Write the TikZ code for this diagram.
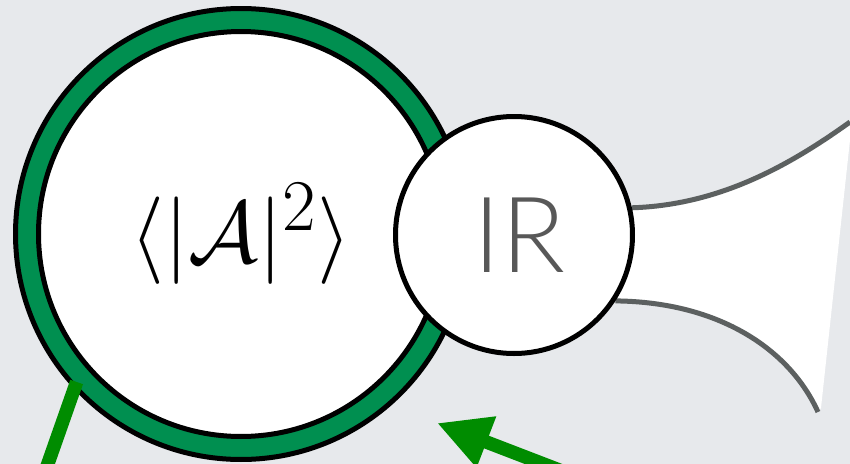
\documentclass[tikz,border=0pt]{standalone}
\usepackage{fontspec}
\usepackage{amsmath,amssymb}
\definecolor{ringgreen}{RGB}{0,143,80}
\definecolor{arrowgreen}{RGB}{0,140,0}
\definecolor{bggray}{RGB}{231,233,236}
\definecolor{linegray}{RGB}{92,96,96}
\definecolor{textgray}{RGB}{88,88,88}
\newfontfamily\irfont{Lato Light}
\usetikzlibrary{arrows.meta,backgrounds,calc}

\begin{document}
\begin{tikzpicture}[x=0.1mm,y=-0.1mm,
  blob/.style={circle,draw=black,line width=0.5mm,inner sep=0pt},
  leg/.style={draw=linegray,line width=0.5mm},
  pointer/.style={draw=arrowgreen,line width=1.35mm}]
\useasboundingbox (0,0) rectangle (850,464);
\clip (0,0) rectangle (850,464);
\node[blob,fill=ringgreen,minimum size=45.1mm] (ring) at (241,234) {};
\node[blob,fill=white,minimum size=40.5mm,font=\fontsize{30.5}{36}\selectfont] (amp) at (ring.center) {$\langle|\mathcal{A}|^2\rangle$};
\node[blob,fill=white,minimum size=23.7mm,text=textgray,font=\irfont\fontsize{30}{36}\selectfont] (ir) at (514,235) {\kern1.1mm IR};
\coordinate (top end) at (850,122);
\coordinate (bot end) at (818,412);
\begin{scope}[on background layer]
  \fill[bggray] (0,0) rectangle (850,464);
  \fill[white] (ir.13) .. controls (720,205) and (790,165) .. (top end) -- (850,140) -- (821,408) -- (bot end) .. controls (790,350) and (720,302) .. (ir.-33) -- (ir.center) -- cycle;
  \draw[leg] (ir.13) .. controls (720,205) and (790,165) .. (top end);
  \draw[leg] (ir.-33) .. controls (720,302) and (790,350) .. (bot end);
\end{scope}
\coordinate (left foot) at (45,472);
\draw[pointer] ($(ring.center)!0.97!(ring.222)$) -- (left foot);
\coordinate (arrow tail) at (580,478);
\coordinate (arrow tip) at (437,423);
\draw[pointer,-{Triangle[length=5.3mm,width=5.1mm]}] (arrow tail) -- (arrow tip);
\end{tikzpicture}
\end{document}
